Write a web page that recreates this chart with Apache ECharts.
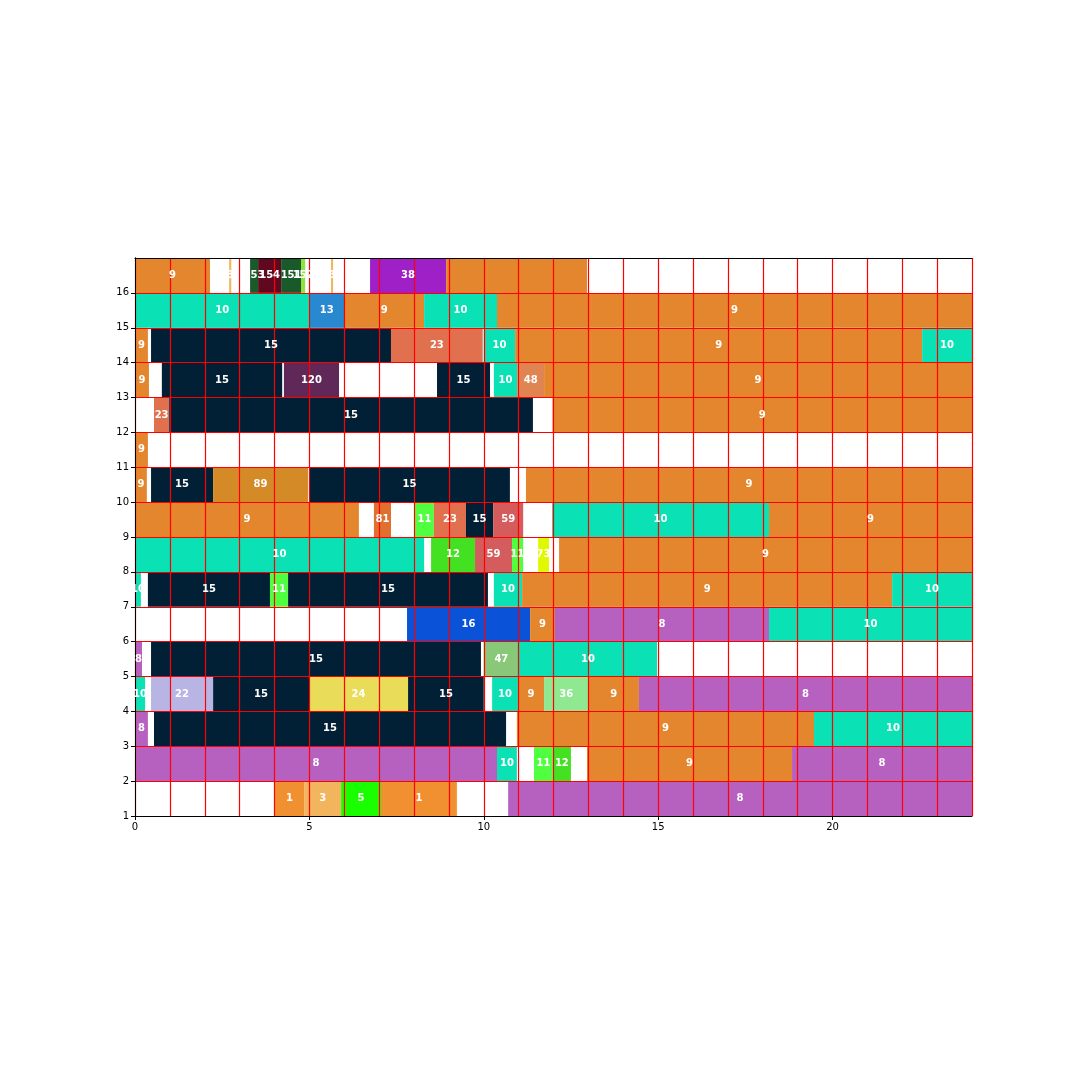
<!DOCTYPE html>
<html>
<head>
<meta charset="utf-8">
<script src="https://cdn.jsdelivr.net/npm/echarts@6/dist/echarts.min.js"></script>
<style>
  html, body { margin: 0; padding: 0; background: #fff; }
  #chart { width: 1080px; height: 1080px; }
</style>
</head>
<body>
<div id="chart"></div>
<script>
// each row: [start, end, id, showLabel?]
var row1 = [[4.01, 4.85, 1], [4.85, 5.91, 3], [5.91, 7.05, 5], [7.05, 9.23, 1], [10.7, 24, 8]];
var row2 = [[0, 10.38, 8], [10.38, 10.95, 10], [11.44, 11.98, 11], [11.98, 12.5, 12], [12.96, 18.84, 9], [18.84, 24, 8]];
var row3 = [[0, 0.37, 8], [0.545, 10.64, 15], [10.95, 19.47, 9], [19.47, 24, 10]];
var row4 = [[0, 0.29, 10], [0.46, 2.24, 22], [2.24, 4.99, 15], [4.99, 7.83, 24], [7.83, 10.0, 15], [10.24, 10.98, 10],
            [10.98, 11.73, 9], [11.73, 13.0, 36], [13.0, 14.45, 9], [14.45, 24, 8]];
var row5 = [[0, 0.2, 8], [0.46, 9.92, 15], [10.0, 11.01, 47], [11.01, 14.97, 10]];
var row6 = [[7.8, 11.33, 16], [11.33, 12.04, 9], [12.04, 18.18, 8], [18.18, 24, 10]];
var row7 = [[0, 0.17, 10], [0.37, 3.87, 15], [3.87, 4.39, 11], [4.39, 10.12, 15], [10.29, 11.1, 10], [11.1, 21.71, 9], [21.71, 24, 10]];
var row8 = [[0, 8.29, 10], [8.49, 9.75, 12], [9.75, 10.81, 59], [10.81, 11.13, 11], [11.56, 11.87, 73], [12.16, 24, 9]];
var row9 = [[0, 6.42, 9], [6.85, 7.34, 81], [8.03, 8.57, 11], [8.57, 9.49, 23], [9.49, 10.27, 15], [10.27, 11.13, 59],
            [11.96, 18.18, 10], [18.18, 24, 9]];
var row10 = [[0, 0.34, 9], [0.46, 2.24, 15], [2.24, 4.96, 89], [4.99, 10.75, 15], [11.21, 24, 9]];
var row11 = [[0, 0.37, 9]];
var row12 = [[0.545, 0.98, 23], [0.98, 11.41, 15], [11.97, 24, 9]];
var row13 = [[0, 0.4, 9], [0.77, 4.22, 15], [4.27, 5.85, 120], [8.66, 10.18, 15], [10.29, 10.96, 10], [10.96, 11.73, 48], [11.73, 24, 9]];
var row14 = [[0, 0.37, 9], [0.46, 7.34, 15], [7.34, 9.97, 23], [10.0, 10.9, 10], [10.9, 22.57, 9], [22.57, 24, 10]];
var row15 = [[0, 5, 10], [5, 6, 13], [6, 8.29, 9], [8.29, 10.38, 10], [10.38, 24, 9]];
var row16 = [[0, 2.15, 9], [2.7, 2.76, 3], [3.3, 3.53, 153], [3.53, 4.19, 154], [4.19, 4.76, 151], [4.76, 4.88, 152],
             [5.62, 5.68, 3], [6.74, 8.92, 38], [8.92, 12.96, 9, false]];

var rows = [row1, row2, row3, row4, row5, row6, row7, row8, row9, row10, row11, row12, row13, row14, row15, row16];

var yTicks = [1, 2, 3, 4, 5, 6, 7, 8, 9, 10, 11, 12, 13, 14, 15, 16];

// colour per id
var colorById = {
    1: '#f09030', 3: '#f2b45c', 5: '#1aff00', 8: '#b660c0', 9: '#e4862d', 10: '#0ae2b6',
    11: '#50ff40', 12: '#44e022', 13: '#2888d0', 15: '#022035', 16: '#0a52d8', 22: '#b8b4e4',
    23: '#e0704e', 24: '#e8dc58', 36: '#90e890', 38: '#a020c8', 47: '#88c878', 48: '#e08552',
    59: '#d45c5c', 73: '#e0f800', 81: '#e07030', 89: '#d58a28', 120: '#602858',
    151: '#1a5a2a', 152: '#90e040', 153: '#1a5a2a', 154: '#600820'
};

var data = [];
rows.forEach(function (r, i) {
    r.forEach(function (s) {
        data.push([s[0], s[1], i + 1, s[2], s[3] === false ? 0 : 1]);
    });
});

function rectItem(params, api) {
    var p0 = api.coord([api.value(0), api.value(2) + 1]);
    var p1 = api.coord([api.value(1), api.value(2)]);
    return {
        type: 'rect',
        shape: { x: p0[0], y: p0[1], width: p1[0] - p0[0], height: p1[1] - p0[1] },
        style: { fill: colorById[api.value(3)] || '#999' }
    };
}

function labelItem(params, api) {
    if (!api.value(4)) return null;
    var p0 = api.coord([api.value(0), api.value(2) + 1]);
    var p1 = api.coord([api.value(1), api.value(2)]);
    return {
        type: 'text',
        style: {
            x: (p0[0] + p1[0]) / 2, y: (p0[1] + p1[1]) / 2,
            text: String(api.value(3)), fill: '#fff', align: 'center', verticalAlign: 'middle',
            font: 'bold 10px "DejaVu Sans"'
        }
    };
}

var myChart = echarts.init(document.getElementById('chart'));
myChart.setOption({
    backgroundColor: '#fff',
    animation: false,
    grid: { left: 135, right: 108, top: 258, bottom: 264 },
    xAxis: [
        {
            type: 'value', min: 0, max: 24, interval: 5, position: 'bottom', z: 10,
            axisLine: { show: true, onZero: false, lineStyle: { color: '#000', width: 1 } },
            axisTick: { show: true, length: 4, lineStyle: { color: '#000' } },
            axisLabel: { color: '#000', fontSize: 10, fontFamily: 'DejaVu Sans', margin: 6, showMaxLabel: false },
            splitLine: { show: false }
        },
        {
            type: 'value', min: 0, max: 24, interval: 1, position: 'top', z: 10,
            axisLine: { show: true, lineStyle: { color: '#000', width: 1 } },
            axisTick: { show: false }, axisLabel: { show: false },
            splitLine: { show: true, lineStyle: { color: '#ff0000', width: 1.2 } }
        }
    ],
    yAxis: [
        {
            type: 'value', min: 1, max: 17, interval: 1, position: 'left', z: 10,
            axisLine: { show: true, onZero: false, lineStyle: { color: '#000', width: 1 } },
            axisTick: { show: true, length: 4, lineStyle: { color: '#000' }, customValues: yTicks },
            axisLabel: { color: '#000', fontSize: 10, fontFamily: 'DejaVu Sans', margin: 6,
                         customValues: yTicks },
            splitLine: { show: true, lineStyle: { color: '#ff0000', width: 1.2 } }
        },
        {
            type: 'value', min: 1, max: 17, position: 'right', z: 10,
            axisLine: { show: true, lineStyle: { color: '#000', width: 1 } },
            axisTick: { show: false }, axisLabel: { show: false }, splitLine: { show: false }
        }
    ],
    series: [
        {
            type: 'custom', z: 2,
            encode: { x: [0, 1], y: 2 },
            renderItem: rectItem,
            data: data
        },
        {
            type: 'custom', z: 20,
            encode: { x: [0, 1], y: 2 },
            renderItem: labelItem,
            data: data
        }
    ]
});
</script>
</body>
</html>
